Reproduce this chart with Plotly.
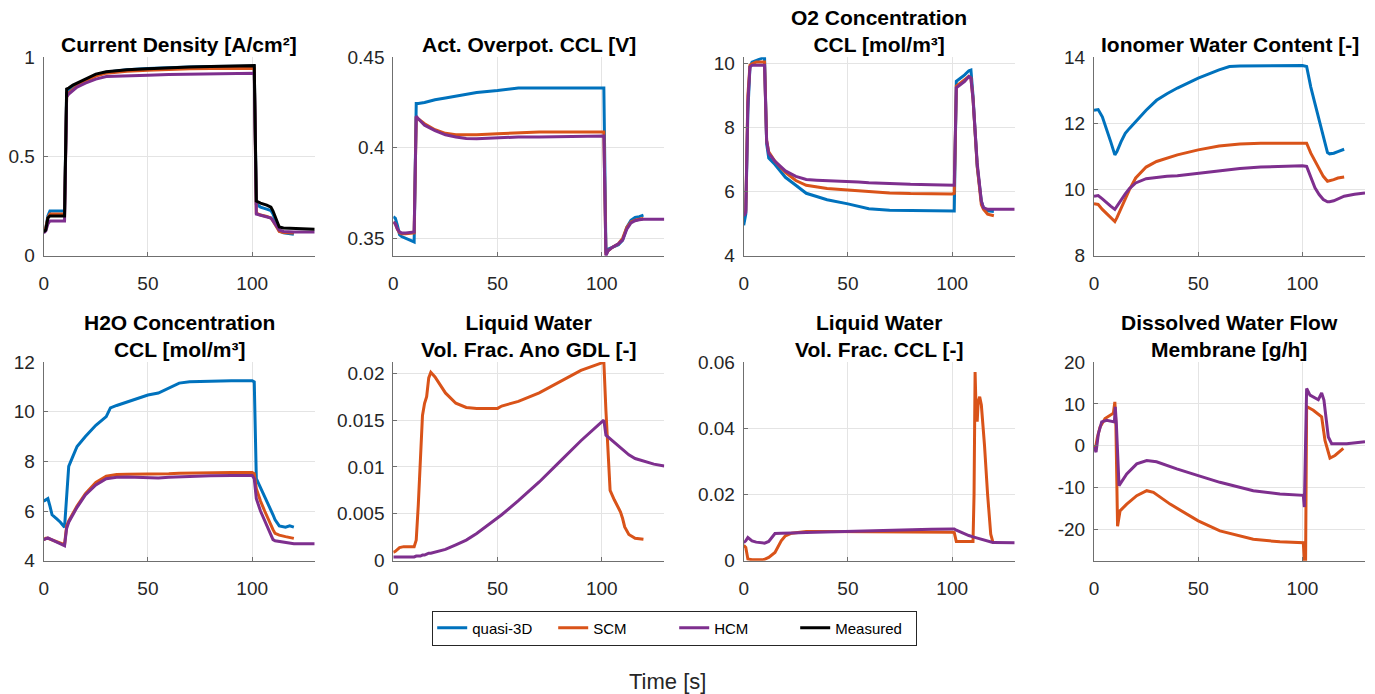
import plotly.graph_objects as go

# ---------------- data ----------------
series_names = ["quasi-3D", "SCM", "HCM", "Measured"]
series_colors = ["#0072BD", "#D95319", "#7E2F8E", "#000000"]

panel_titles = [
    "Current Density [A/cm²]",
    "Act. Overpot. CCL [V]",
    "O2 Concentration<br>CCL [mol/m³]",
    "Ionomer Water Content [-]",
    "H2O Concentration<br>CCL [mol/m³]",
    "Liquid Water<br>Vol. Frac. Ano GDL [-]",
    "Liquid Water<br>Vol. Frac. CCL [-]",
    "Dissolved Water Flow<br>Membrane [g/h]",
]

x_ticks = [0, 50, 100]
y_ticks_cd = [0, 0.5, 1]
y_ticks_eta = [0.35, 0.4, 0.45]
y_ticks_o2 = [4, 6, 8, 10]
y_ticks_lam = [8, 10, 12, 14]
y_ticks_h2o = [4, 6, 8, 10, 12]
y_ticks_agdl = [0, 0.005, 0.01, 0.015, 0.02]
y_ticks_ccl = [0, 0.02, 0.04, 0.06]
y_ticks_flux = [-20, -10, 0, 10, 20]

# Panel 1: current density
t_cd = [0, 1, 2, 3, 10, 11, 12, 14, 16, 20, 25, 30, 40, 50, 60, 70, 80, 90, 100, 101,
        102, 104, 107, 109, 110, 112, 113, 115, 120, 130]
cd_q = [0.12, 0.14, 0.20, 0.225, 0.225, 0.82, 0.835, 0.85, 0.865, 0.885, 0.91, 0.925, 0.937, 0.943,
        0.948, 0.951, 0.953, 0.955, 0.955, 0.955, 0.26, 0.245, 0.235, 0.228, 0.21, 0.15, 0.125, 0.115, 0.108]
cd_s = [0.12, 0.14, 0.19, 0.21, 0.21, 0.80, 0.82, 0.84, 0.855, 0.88, 0.905, 0.92, 0.93, 0.935,
        0.939, 0.942, 0.943, 0.945, 0.945, 0.945, 0.215, 0.205, 0.198, 0.19, 0.175, 0.14, 0.122, 0.117, 0.115]
cd_h = [0.115, 0.125, 0.16, 0.175, 0.175, 0.80, 0.815, 0.835, 0.85, 0.87, 0.89, 0.903, 0.908, 0.91,
        0.913, 0.915, 0.917, 0.918, 0.92, 0.92, 0.21, 0.205, 0.198, 0.19, 0.175, 0.145, 0.13, 0.122, 0.12, 0.12]
cd_m = [0.12, 0.13, 0.19, 0.20, 0.20, 0.84, 0.845, 0.86, 0.87, 0.89, 0.915, 0.927, 0.937, 0.942,
        0.948, 0.951, 0.953, 0.957, 0.958, 0.958, 0.275, 0.265, 0.255, 0.245, 0.225, 0.17, 0.145, 0.14, 0.138, 0.133]

# Panel 2: activation overpotential
t_eta = [0, 1, 2, 3, 4, 6, 10, 11, 12, 15, 20, 25, 30, 35, 40, 50, 60, 70, 80, 90,
         100, 101, 102, 103, 105, 108, 110, 112, 114, 116, 118, 120, 125, 130]
eta_q = [0.362, 0.361, 0.357, 0.352, 0.351, 0.350, 0.348, 0.4245, 0.4245, 0.425, 0.4265, 0.4275, 0.4285,
         0.4295, 0.4305, 0.4316, 0.433, 0.433, 0.4328, 0.433, 0.433, 0.433, 0.342, 0.344, 0.345, 0.3465,
         0.349, 0.356, 0.360, 0.3615, 0.362, 0.3628]
eta_s = [0.359, 0.358, 0.355, 0.353, 0.3525, 0.3525, 0.353, 0.417, 0.416, 0.4133, 0.410, 0.408, 0.4072,
         0.407, 0.4072, 0.4078, 0.4085, 0.4088, 0.4088, 0.4088, 0.4088, 0.4088, 0.341, 0.343, 0.345, 0.347,
         0.350, 0.356, 0.359, 0.360, 0.3605, 0.361]
eta_h = [0.359, 0.358, 0.355, 0.3535, 0.353, 0.353, 0.3535, 0.4175, 0.416, 0.4125, 0.4095, 0.4072, 0.406,
         0.4052, 0.405, 0.4055, 0.406, 0.406, 0.4062, 0.4063, 0.4065, 0.4065, 0.3404, 0.343, 0.345, 0.347,
         0.349, 0.355, 0.3585, 0.3597, 0.3603, 0.3605, 0.3605, 0.3605]

# Panel 3: O2 concentration
t_o2 = [0, 1, 2, 3, 4, 6, 10, 11, 12, 15, 20, 25, 30, 35, 40, 50, 55, 60, 70, 80, 90, 100,
        101, 102, 104, 106, 108, 109, 110, 112, 114, 115, 117, 120, 125, 130]
o2_q = [4.95, 5.3, 8.5, 9.9, 10.05, 10.1, 10.2, 7.5, 7.05, 6.85, 6.45, 6.2, 5.95, 5.85, 5.75, 5.62, 5.55,
        5.47, 5.42, 5.41, 5.41, 5.4, 5.4, 9.45, 9.55, 9.65, 9.78, 9.8, 9.0, 6.8, 5.7, 5.5, 5.4, 5.38]
o2_s = [5.25, 5.4, 9.0, 9.95, 10.0, 10.05, 10.05, 7.6, 7.25, 6.95, 6.6, 6.35, 6.2, 6.15, 6.1, 6.05, 6.03,
        5.99, 5.96, 5.94, 5.93, 5.93, 5.95, 9.3, 9.4, 9.5, 9.6, 9.55, 8.9, 6.8, 5.6, 5.45, 5.3, 5.25]
o2_h = [5.25, 5.35, 8.8, 9.9, 9.95, 9.95, 9.95, 7.6, 7.2, 6.95, 6.65, 6.48, 6.38, 6.36, 6.35, 6.32, 6.3,
        6.28, 6.25, 6.23, 6.22, 6.2, 6.2, 9.25, 9.35, 9.45, 9.6, 9.55, 8.9, 6.9, 5.7, 5.5, 5.45, 5.45, 5.45, 5.45]

# Panel 4: ionomer water content
t_lam = [0, 2, 4, 6, 8, 10, 11, 13, 15, 17, 20, 25, 30, 35, 40, 50, 60, 65, 70, 80, 90, 100,
         102, 104, 106, 108, 110, 112, 113, 115, 117, 120, 125, 130]
lam_q = [12.4, 12.42, 12.2, 11.85, 11.45, 11.05, 11.15, 11.45, 11.7, 11.85, 12.05, 12.4, 12.7, 12.9, 13.07,
         13.37, 13.62, 13.72, 13.74, 13.75, 13.75, 13.75, 13.72, 13.1, 12.6, 12.1, 11.6, 11.12, 11.08, 11.1,
         11.15, 11.22]
lam_s = [9.57, 9.55, 9.4, 9.27, 9.15, 9.03, 9.15, 9.45, 9.75, 10.0, 10.35, 10.68, 10.85, 10.96, 11.05,
         11.2, 11.32, 11.35, 11.38, 11.4, 11.41, 11.42, 11.4, 11.1, 10.85, 10.6, 10.4, 10.25, 10.26, 10.3,
         10.35, 10.38]
lam_h = [9.8, 9.82, 9.72, 9.6, 9.5, 9.4, 9.5, 9.7, 9.87, 10.03, 10.2, 10.33, 10.37, 10.4, 10.42, 10.5,
         10.58, 10.62, 10.64, 10.68, 10.7, 10.72, 10.7, 10.35, 10.05, 9.85, 9.7, 9.63, 9.63, 9.66, 9.72,
         9.8, 9.86, 9.9]

# Panel 5: H2O concentration
t_h2o = [0, 1, 2, 3, 4, 6, 8, 10, 11, 12, 14, 16, 20, 25, 30, 32, 35, 40, 45, 50, 55, 60, 65, 70,
         80, 90, 100, 101, 102, 104, 106, 108, 110, 111, 113, 116, 118, 120, 125, 130]
h2o_q = [6.4, 6.45, 6.5, 6.2, 5.85, 5.7, 5.55, 5.35, 6.5, 7.8, 8.2, 8.6, 9.0, 9.45, 9.8, 10.15, 10.25,
         10.4, 10.55, 10.67, 10.75, 10.95, 11.15, 11.2, 11.23, 11.25, 11.25, 11.2, 7.3, 6.95, 6.6, 6.2,
         5.85, 5.65, 5.4, 5.35, 5.4, 5.35]
h2o_s = [4.85, 4.9, 4.9, 4.87, 4.84, 4.8, 4.72, 4.65, 5.4, 5.6, 5.9, 6.2, 6.7, 7.15, 7.4, 7.44, 7.47,
         7.48, 7.48, 7.47, 7.48, 7.5, 7.52, 7.53, 7.55, 7.55, 7.55, 7.5, 6.9, 6.4, 6.0, 5.6, 5.25, 5.1,
         5.03, 4.97, 4.93, 4.9]
h2o_h = [4.85, 4.9, 4.92, 4.88, 4.84, 4.78, 4.7, 4.6, 5.3, 5.55, 5.85, 6.15, 6.65, 7.05, 7.3, 7.33, 7.36,
         7.37, 7.35, 7.33, 7.33, 7.36, 7.38, 7.4, 7.42, 7.43, 7.43, 7.3, 6.5, 6.0, 5.6, 5.2, 4.85, 4.8,
         4.77, 4.73, 4.7, 4.68, 4.68, 4.68]

# Panel 6: liquid water volume fraction anode GDL
t_agdl = [0, 1, 3, 5, 10, 11, 12, 13, 14, 15, 16, 17, 18, 20, 25, 30, 35, 40, 50, 52, 60, 70, 80, 90,
          100, 101, 102, 103, 104, 106, 108, 109, 110, 111, 113, 116, 120, 125, 130]
agdl_s = [0.0009, 0.001, 0.0014, 0.0015, 0.0015, 0.0022, 0.006, 0.0115, 0.0155, 0.0168, 0.0175, 0.0195,
          0.0201, 0.0196, 0.0179, 0.0168, 0.01635, 0.01625, 0.01625, 0.0165, 0.0170, 0.0179, 0.0191, 0.0203,
          0.0211, 0.0212, 0.016, 0.011, 0.0075, 0.0065, 0.0057, 0.0052, 0.0045, 0.0036, 0.0028, 0.0024, 0.0023]
agdl_h = [0.0004, 0.0004, 0.0004, 0.0004, 0.0004, 0.0005, 0.0005, 0.0005, 0.0006, 0.0006, 0.0007, 0.0008,
          0.0008, 0.0009, 0.0012, 0.0017, 0.0022, 0.0029, 0.0045, 0.0049, 0.0064, 0.0084, 0.0106, 0.0128,
          0.0148, 0.0150, 0.0134, 0.0132, 0.0130, 0.0126, 0.0122, 0.0120, 0.0118, 0.0116, 0.0113, 0.0109,
          0.0106, 0.0103, 0.0101]

# Panel 7: liquid water volume fraction CCL
t_ccl = [0, 1, 2, 3, 4, 6, 8, 10, 12, 14, 15, 18, 20, 23, 30, 40, 50, 60, 70, 80, 90, 100, 101, 102,
         104, 106, 108, 110, 110.5, 111, 111.5, 112, 112.5, 113.2, 114, 115.5, 117, 118.5, 119.5, 120, 125, 130]
ccl_s = [0.0047, 0.004, 0.0005, 0.0003, 0.0003, 0.0003, 0.0003, 0.0004, 0.001, 0.002, 0.0025, 0.006,
         0.0075, 0.0083, 0.0088, 0.0088, 0.0088, 0.0087, 0.0087, 0.0086, 0.0086, 0.0086, 0.0085, 0.0058,
         0.0058, 0.0058, 0.0058, 0.0058, 0.02, 0.057, 0.045, 0.042, 0.048, 0.0495, 0.047, 0.035, 0.02,
         0.008, 0.0057, 0.0055]
ccl_h = [0.0055, 0.006, 0.007, 0.0065, 0.006, 0.0056, 0.0055, 0.0053, 0.0058, 0.0075, 0.0082, 0.0083,
         0.0084, 0.0084, 0.0085, 0.0087, 0.0089, 0.009, 0.0092, 0.0093, 0.0095, 0.0096, 0.0096, 0.0092,
         0.0086, 0.0081, 0.0076, 0.0072, 0.0071, 0.007, 0.0069, 0.0068, 0.0067, 0.0066, 0.0064, 0.0061,
         0.0058, 0.0056, 0.0055, 0.0055, 0.0054, 0.0054]

# Panel 8: dissolved water flow through membrane
t_fx_s = [0, 0.5, 1.6, 2.9, 5.3, 9.3, 10, 10.5, 11.3, 12.5, 15.7, 20.5, 25.3, 28.5, 36.5, 50, 60.4,
          76.4, 89.2, 100.4, 100.9, 101.5, 102, 105.2, 109.2, 110.8, 113.2, 115.6, 119.6]
fx_s = [0, -1.1, 2, 4.5, 6.5, 7.8, 10.5, 5, -19.2, -15.5, -13.9, -11.9, -10.7, -11.1, -13.9, -17.9,
        -20.3, -22.3, -22.9, -23.1, -27.4, -27.4, 9.4, 8.5, 6.9, 1.3, -2.9, -2.3, -0.6]
t_fx_h = [0, 1, 2.1, 3.7, 6.1, 9.8, 10.2, 10.7, 12, 15.7, 20.5, 25.3, 30, 39.7, 50, 60.4, 76.4, 89.2,
          100.4, 100.9, 102, 103.6, 107.6, 109.2, 110.3, 112.4, 114, 121.2, 130]
fx_h = [-0.3, -1.5, 2.9, 5.7, 6.1, 5.7, 9.3, 5.5, -9.5, -6.7, -4.3, -3.5, -3.8, -5.5, -7.1, -8.7,
        -10.7, -11.5, -11.8, -14.6, 13.7, 12.1, 11.0, 12.6, 10.9, 2.1, 0.5, 0.5, 1.0]

# ---------------- figure ----------------
W, H = 1375, 694
FONT = "Liberation Sans, Arial, Helvetica, sans-serif"
TXT = "#262626"

col_left = [43.7, 393.3, 743.7, 1094.0]
col_w = 271.0
row_top = [57.3, 362.0]
row_bot = [255.7, 560.7]

panels = [
    ([(t_cd, cd_q, 0), (t_cd, cd_s, 1), (t_cd, cd_h, 2), (t_cd, cd_m, 3)], [0, 1], y_ticks_cd),
    ([(t_eta, eta_q, 0), (t_eta, eta_s, 1), (t_eta, eta_h, 2)], [0.3404, 0.45], y_ticks_eta),
    ([(t_o2, o2_q, 0), (t_o2, o2_s, 1), (t_o2, o2_h, 2)], [4, 10.2], y_ticks_o2),
    ([(t_lam, lam_q, 0), (t_lam, lam_s, 1), (t_lam, lam_h, 2)], [8, 14], y_ticks_lam),
    ([(t_h2o, h2o_q, 0), (t_h2o, h2o_s, 1), (t_h2o, h2o_h, 2)], [4, 12], y_ticks_h2o),
    ([(t_agdl, agdl_s, 1), (t_agdl, agdl_h, 2)], [0, 0.0212], y_ticks_agdl),
    ([(t_ccl, ccl_s, 1), (t_ccl, ccl_h, 2)], [0, 0.06], y_ticks_ccl),
    ([(t_fx_s, fx_s, 1), (t_fx_h, fx_h, 2)], [-27.4, 20], y_ticks_flux),
]


def tick_text(vals):
    return [f"{v:g}" for v in vals]


fig = go.Figure()
annotations = []
layout_axes = {}

for i, (traces, yr, yt) in enumerate(panels):
    r, c = divmod(i, 4)
    n = i + 1
    xa = "x" if n == 1 else f"x{n}"
    ya = "y" if n == 1 else f"y{n}"
    for (tt, vv, si) in traces:
        fig.add_trace(go.Scatter(
            x=tt[:len(vv)], y=vv, mode="lines", xaxis=xa, yaxis=ya,
            name=series_names[si], legendgroup=series_names[si],
            showlegend=(i == 0),
            line=dict(color=series_colors[si], width=3),
        ))
    x0 = col_left[c] / W
    x1 = (col_left[c] + col_w) / W
    y0 = 1 - row_bot[r] / H
    y1 = 1 - row_top[r] / H
    axis_common = dict(
        showline=True, linecolor="#6f6f6f", linewidth=1,
        showgrid=True, gridcolor="#e4e4e4", gridwidth=1,
        zeroline=False, ticks="inside", ticklen=4, tickcolor="#6f6f6f",
        tickfont=dict(family=FONT, size=19, color=TXT),
    )
    layout_axes["xaxis" if n == 1 else f"xaxis{n}"] = dict(
        domain=[x0, x1], anchor=ya, range=[0, 130],
        tickmode="array", tickvals=x_ticks, ticktext=tick_text(x_ticks),
        ticklabelstandoff=10, **axis_common)
    layout_axes["yaxis" if n == 1 else f"yaxis{n}"] = dict(
        domain=[y0, y1], anchor=xa, range=yr,
        tickmode="array", tickvals=yt, ticktext=tick_text(yt),
        ticklabelstandoff=4, **axis_common)
    annotations.append(dict(
        text=f"<b>{panel_titles[i]}</b>", xref="paper", yref="paper",
        x=(x0 + x1) / 2, y=y1, xanchor="center", yanchor="bottom", yshift=-1,
        showarrow=False, font=dict(family=FONT, size=21, color="#000000"),
    ))

annotations.append(dict(
    text="Time [s]", xref="paper", yref="paper", x=667.5 / W, y=1 - 681.7 / H,
    xanchor="center", yanchor="middle", showarrow=False,
    font=dict(family=FONT, size=22, color=TXT),
))

fig.update_layout(
    width=W, height=H,
    margin=dict(l=0, r=0, t=0, b=0, pad=0, autoexpand=False),
    paper_bgcolor="white", plot_bgcolor="white",
    annotations=annotations,
    showlegend=True,
    legend=dict(
        orientation="h", x=674.7 / W, y=1 - 628 / H, xanchor="center", yanchor="middle",
        bordercolor="#262626", borderwidth=1, bgcolor="white",
        font=dict(family=FONT, size=15, color="#000000"),
        entrywidth=76, entrywidthmode="pixels",
    ),
    **layout_axes,
)

fig.write_html("out.html")
